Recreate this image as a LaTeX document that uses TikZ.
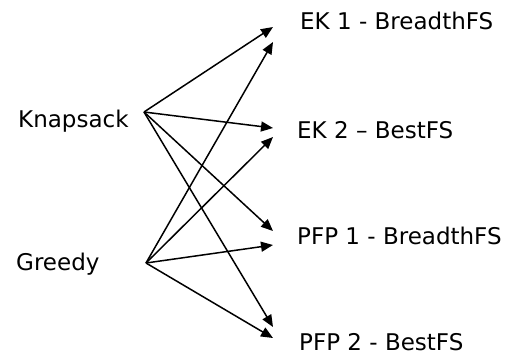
\documentclass[tikz,border=0pt]{standalone}
\usepackage{fontspec}
\setmainfont{DejaVu Sans}
\usetikzlibrary{arrows.meta}
\begin{document}
\begin{tikzpicture}[x=1pt,y=-1pt,
  lbl/.style={anchor=base west,inner sep=0pt,font=\fontsize{23}{26}\selectfont},
  arr/.style={line width=1.5pt,-{Triangle[length=12pt,width=10pt]}}]
\useasboundingbox (0,0) rectangle (506,360);
\node[lbl] (ks) at (18,127) {Knapsack};
\node[lbl] (gr) at (16,270) {Greedy};
\node[lbl] (ek1) at (300,29) {EK 1 - BreadthFS};
\node[lbl] (ek2) at (297,138) {EK 2 – BestFS};
\node[lbl] (pf1) at (297,244) {PFP 1 - BreadthFS};
\node[lbl] (pf2) at (299,350) {PFP 2 - BestFS};
\coordinate (ksout) at (144,112);
\coordinate (grout) at (146,263);
\coordinate (ek1a) at (273,27);
\coordinate (ek1b) at (273,42);
\coordinate (ek2a) at (273,128);
\coordinate (ek2b) at (273,137);
\coordinate (pf1a) at (273,231);
\coordinate (pf1b) at (273,245);
\coordinate (pf2a) at (273,327);
\coordinate (pf2b) at (273,338);
\draw[arr] (ksout) -- (ek1a);
\draw[arr] (ksout) -- (ek2a);
\draw[arr] (ksout) -- (pf1a);
\draw[arr] (ksout) -- (pf2a);
\draw[arr] (grout) -- (ek1b);
\draw[arr] (grout) -- (ek2b);
\draw[arr] (grout) -- (pf1b);
\draw[arr] (grout) -- (pf2b);
\end{tikzpicture}
\end{document}
